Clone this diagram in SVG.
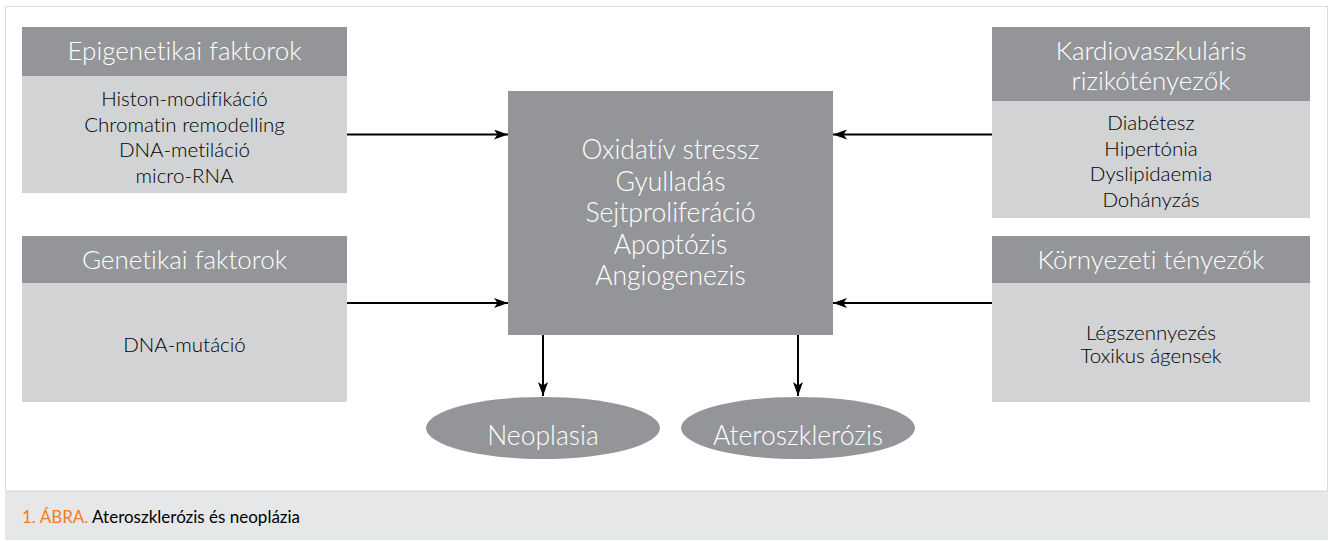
<svg xmlns="http://www.w3.org/2000/svg" width="1333" height="541" viewBox="0 0 1333 541">
<style>
text{font-variant-ligatures:none;font-feature-settings:"liga" 0,"clig" 0}
.hd{fill:#939598}
.bd{fill:#d1d3d4}
.ht{font-family:Lato,"Noto Sans",sans-serif;font-weight:300;font-size:26px;fill:#ffffff;text-anchor:middle}
.bt{font-family:Lato,"Noto Sans",sans-serif;font-weight:300;font-size:20.5px;fill:#000000;text-anchor:middle}
.ct{font-family:Lato,"Noto Sans",sans-serif;font-weight:300;font-size:26.5px;fill:#ffffff;text-anchor:middle}
.cn{stroke:#000;stroke-width:2;fill:none;marker-end:url(#ah)}
.cap{font-family:Lato,"Noto Sans",sans-serif;font-weight:400;font-size:17px}
</style>
<defs>
<marker id="ah" viewBox="0 0 14 10" refX="14" refY="5" markerWidth="14" markerHeight="10" markerUnits="userSpaceOnUse" orient="auto">
<path d="M0,0 L14,5 L0,10 L3.5,5 Z" fill="#000"/>
</marker>
</defs>
<rect x="0" y="0" width="1333" height="541" fill="#ffffff"/>
<rect x="5.5" y="6.5" width="1322" height="485" fill="#ffffff" stroke="#dcdcdc" stroke-width="1"/>
<rect x="5" y="491" width="1323" height="49" fill="#e6e7e8"/>
<line x1="5" y1="491" x2="1328" y2="491" stroke="#d6d6d6"/>
<g id="caption">
<text class="cap" x="22" y="523"><tspan fill="#f47b20">1. ÁBRA.</tspan><tspan fill="#000"> Ateroszklerózis és neoplázia</tspan></text>
</g>
<g id="epigenetikai">
<rect class="hd" x="22" y="27" width="325" height="49"/>
<rect class="bd" x="22" y="76" width="325" height="117"/>
<text class="ht" x="184.5" y="60">Epigenetikai faktorok</text>
<text class="bt" x="184.5" y="106">Histon-modifikáció</text>
<text class="bt" x="184.5" y="131.5">Chromatin remodelling</text>
<text class="bt" x="184.5" y="157">DNA-metiláció</text>
<text class="bt" x="184.5" y="182.5">micro-RNA</text>
</g>
<g id="genetikai">
<rect class="hd" x="22" y="236" width="325" height="47"/>
<rect class="bd" x="22" y="283" width="325" height="119"/>
<text class="ht" x="184.5" y="269">Genetikai faktorok</text>
<text class="bt" x="184.5" y="352">DNA-mutáció</text>
</g>
<g id="kardiovaszkularis">
<rect class="hd" x="992" y="27" width="318" height="74"/>
<rect class="bd" x="992" y="101" width="318" height="117"/>
<text class="ht" x="1151" y="60">Kardiovaszkuláris</text>
<text class="ht" x="1151" y="90">rizikótényezők</text>
<text class="bt" x="1151" y="130">Diabétesz</text>
<text class="bt" x="1151" y="155.5">Hipertónia</text>
<text class="bt" x="1151" y="181">Dyslipidaemia</text>
<text class="bt" x="1151" y="206.5">Dohányzás</text>
</g>
<g id="kornyezeti">
<rect class="hd" x="992" y="236" width="318" height="47"/>
<rect class="bd" x="992" y="283" width="318" height="119"/>
<text class="ht" x="1151" y="269">Környezeti tényezők</text>
<text class="bt" x="1151" y="340">Légszennyezés</text>
<text class="bt" x="1151" y="363">Toxikus ágensek</text>
</g>
<g id="center">
<rect class="hd" x="508" y="91" width="325" height="244"/>
<text class="ct" x="670.5" y="159">Oxidatív stressz</text>
<text class="ct" x="670.5" y="190.5">Gyulladás</text>
<text class="ct" x="670.5" y="222">Sejtproliferáció</text>
<text class="ct" x="670.5" y="253.5">Apoptózis</text>
<text class="ct" x="670.5" y="285">Angiogenezis</text>
</g>
<g id="neoplasia">
<ellipse class="hd" cx="543" cy="428" rx="117" ry="31"/>
<text class="ct" x="543" y="445">Neoplasia</text>
</g>
<g id="ateroszklerozis">
<ellipse class="hd" cx="798" cy="428" rx="117" ry="31"/>
<text class="ct" x="798" y="445">Ateroszklerózis</text>
</g>
<g id="connectors">
<line class="cn" x1="347" y1="134.5" x2="508" y2="134.5"/>
<line class="cn" x1="347" y1="303" x2="508" y2="303"/>
<line class="cn" x1="992" y1="134.5" x2="833" y2="134.5"/>
<line class="cn" x1="992" y1="303" x2="833" y2="303"/>
<line class="cn" x1="543" y1="335" x2="543" y2="396"/>
<line class="cn" x1="798" y1="335" x2="798" y2="396"/>
</g>
</svg>
